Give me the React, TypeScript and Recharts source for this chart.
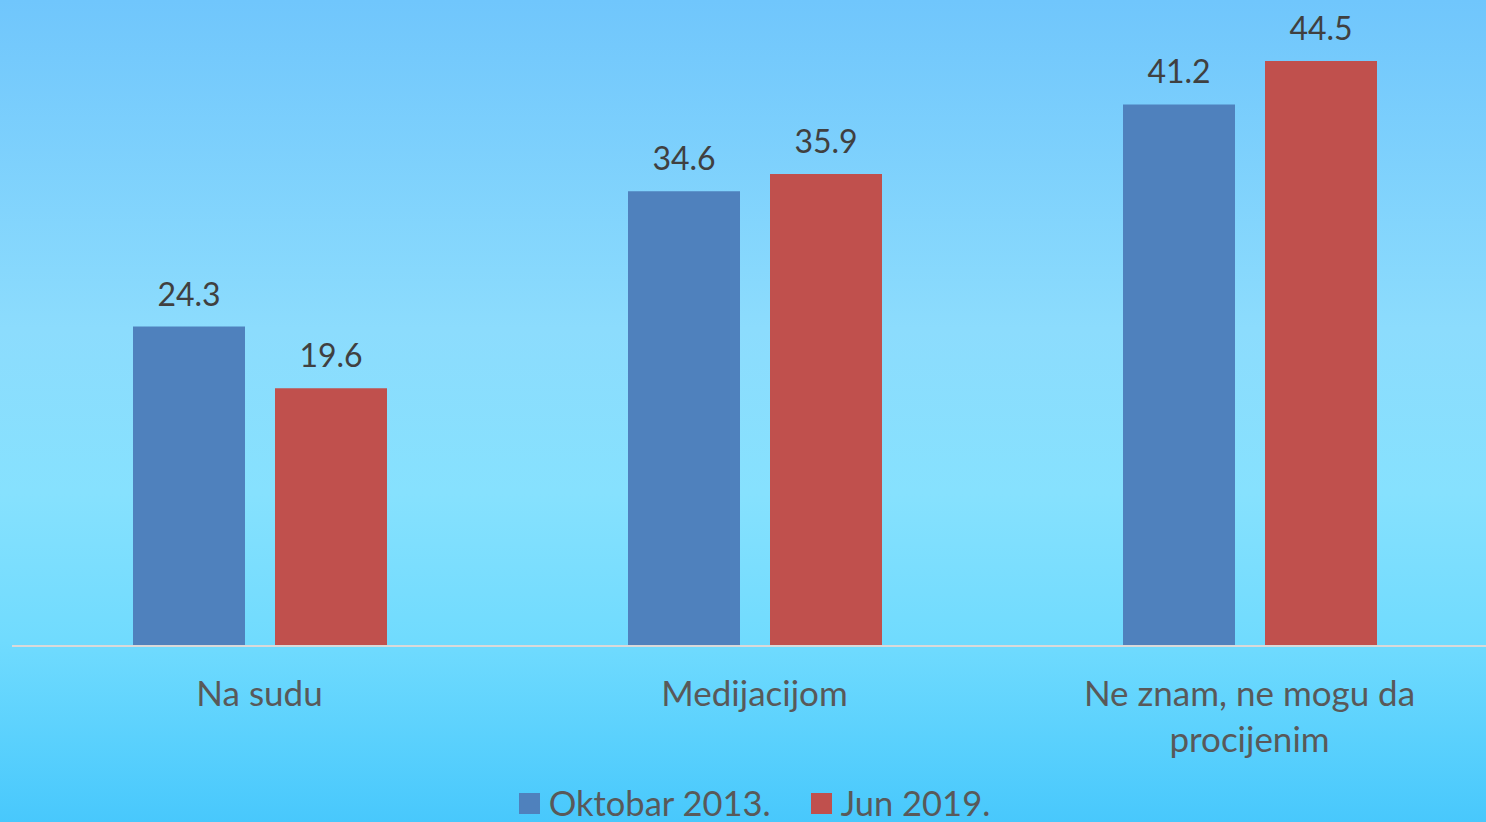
import { BarChart, Bar, XAxis, YAxis, Legend, LabelList } from 'recharts';

const categories = ['Na sudu', 'Medijacijom', 'Ne znam, ne mogu da procijenim'];
const oktobar2013 = [24.3, 34.6, 41.2];
const jun2019 = [19.6, 35.9, 44.5];
const seriesNames = ['Oktobar 2013.', 'Jun 2019.'];
const seriesColors = ['#4f81bd', '#c0504d'];

const data = categories.map((name, i) => ({
  name,
  a: oktobar2013[i],
  b: jun2019[i],
}));

const FONT = 'Lato, "Open Sans", sans-serif';

// wrap long category names onto two lines
function CategoryTick({ x, y, payload }: any) {
  const words = String(payload.value).split(' ');
  const lines: string[] = [];
  let cur = '';
  words.forEach(w => {
    const next = cur ? cur + ' ' + w : w;
    if (next.length > 20 && cur) {
      lines.push(cur);
      cur = w;
    } else {
      cur = next;
    }
  });
  if (cur) lines.push(cur);
  return (
    <text x={x} y={y} textAnchor="middle" fill="#595959" fontSize={35} fontFamily={FONT}>
      {lines.map((l, i) => (
        <tspan key={i} x={x} dy={i === 0 ? 52 : 46}>{l}</tspan>
      ))}
    </text>
  );
}

function LegendBox() {
  return (
    <div style={{ boxSizing: 'border-box', display: 'flex', justifyContent: 'center', alignItems: 'center', height: 56, paddingTop: 18, fontFamily: FONT, fontSize: 34.5, lineHeight: '38px', color: '#595959' }}>
      {seriesNames.map((n, i) => (
        <div key={n} style={{ display: 'flex', alignItems: 'center', marginRight: i === 0 ? 40 : 0 }}>
          <span style={{ width: 21, height: 21, background: seriesColors[i], display: 'inline-block', marginRight: 9 }} />
          <span>{n}</span>
        </div>
      ))}
    </div>
  );
}

export default function App() {
  return (
    <div
      style={{
        position: 'absolute',
        left: 0,
        top: 0,
        width: 1486,
        height: 822,
        overflow: 'hidden',
        background: 'linear-gradient(to bottom, #70c6fc 0%, #8cdcfd 40%, #86e1fe 60%, #70dbfe 78%, #48c8fc 100%)',
      }}
    >
      <BarChart
        width={1497}
        height={822}
        data={data}
        margin={{ top: 15, right: 0, left: 12, bottom: 0 }}
        barCategoryGap={121}
        barGap={30}
      >
        <XAxis
          dataKey="name"
          axisLine={{ stroke: '#d9d9d9', strokeWidth: 2 }}
          tickLine={false}
          height={120}
          interval={0}
          tick={<CategoryTick />}
        />
        <YAxis hide domain={[0, 48]} />
        <Legend verticalAlign="bottom" content={<LegendBox />} />
        <Bar dataKey="a" name={seriesNames[0]} fill={seriesColors[0]} isAnimationActive={false}>
          <LabelList dataKey="a" position="top" offset={21} fill="#404040" fontSize={32} fontFamily={FONT} />
        </Bar>
        <Bar dataKey="b" name={seriesNames[1]} fill={seriesColors[1]} isAnimationActive={false}>
          <LabelList dataKey="b" position="top" offset={21} fill="#404040" fontSize={32} fontFamily={FONT} />
        </Bar>
      </BarChart>
    </div>
  );
}
